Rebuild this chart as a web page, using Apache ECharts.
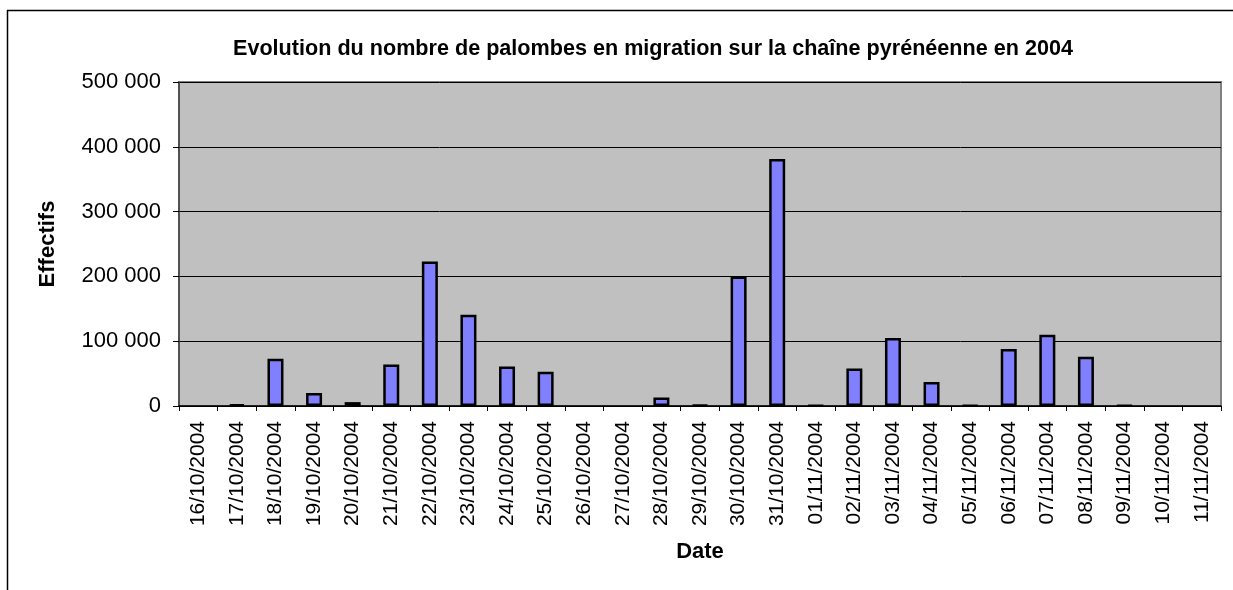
<!DOCTYPE html>
<html>
<head>
<meta charset="utf-8">
<script src="https://cdn.jsdelivr.net/npm/echarts@6/dist/echarts.min.js"></script>
<style>
html,body{margin:0;padding:0;background:#fff;}
#chart{width:1233px;height:590px;}
</style>
</head>
<body>
<div id="chart"></div>
<script>
var titleText = "Evolution du nombre de palombes en migration sur la chaîne pyrénéenne en 2004";
var xAxisName = "Date";
var yAxisName = "Effectifs";
var dates = ["16/10/2004","17/10/2004","18/10/2004","19/10/2004","20/10/2004","21/10/2004","22/10/2004","23/10/2004","24/10/2004","25/10/2004","26/10/2004","27/10/2004","28/10/2004","29/10/2004","30/10/2004","31/10/2004","01/11/2004","02/11/2004","03/11/2004","04/11/2004","05/11/2004","06/11/2004","07/11/2004","08/11/2004","09/11/2004","10/11/2004","11/11/2004"];
var effectifs = [0,2500,73000,20000,6000,64000,223000,141000,61000,53000,0,0,13000,1500,200000,381000,1000,58000,105000,37000,1000,88000,110000,76000,1000,0,0];
var yMin = 0, yMax = 500000, yStep = 100000;

function fmt(v){ return String(v).replace(/\B(?=(\d{3})+(?!\d))/g, ' '); }

var barData = effectifs.map(function(v){
  return v === 0 ? {value:v, itemStyle:{borderWidth:0}} : v;
});

var chart = echarts.init(document.getElementById('chart'), null, {renderer:'canvas'});
chart.setOption({
  backgroundColor:'#ffffff',
  animation:false,
  textStyle:{fontFamily:'Arial, "Liberation Sans", sans-serif'},
  title:{
    text:titleText, left:648, top:33, textAlign:'center',
    textStyle:{fontSize:21.6, fontWeight:'bold', color:'#000', fontFamily:'Arial, "Liberation Sans", sans-serif'}
  },
  graphic:[
    {type:'line', shape:{x1:7,y1:10.5,x2:1233,y2:10.5}, style:{stroke:'#000',lineWidth:1.5}, z:100},
    {type:'line', shape:{x1:7.5,y1:10,x2:7.5,y2:590}, style:{stroke:'#000',lineWidth:1.5}, z:100}
  ],
  grid:{left:179, right:12, top:82, bottom:184, show:true, backgroundColor:'#C0C0C0', borderColor:'#808080', borderWidth:2},
  xAxis:{
    type:'category', data:dates,
    name:xAxisName, nameLocation:'middle', nameGap:135,
    nameTextStyle:{fontSize:22, fontWeight:'bold', color:'#000'},
    axisLine:{show:true, lineStyle:{color:'#000', width:1.5}},
    axisTick:{show:true, length:5, alignWithLabel:false, lineStyle:{color:'#000'}},
    axisLabel:{rotate:90, fontSize:21, color:'#000', margin:15, interval:0},
    splitLine:{show:false}
  },
  yAxis:{
    type:'value', min:yMin, max:yMax, interval:yStep,
    name:yAxisName, nameLocation:'middle', nameGap:120,
    nameTextStyle:{fontSize:22, fontWeight:'bold', color:'#000'},
    axisLine:{show:true, lineStyle:{color:'#404040', width:1.5}},
    axisTick:{show:true, length:6, lineStyle:{color:'#000'}},
    axisLabel:{fontSize:22, color:'#000', margin:18, formatter:fmt},
    splitLine:{show:true, lineStyle:{color:'#000', width:1}}
  },
  series:[{
    type:'bar', data:barData, barWidth:16,
    itemStyle:{color:'#8080FF', borderColor:'#000', borderWidth:2.5}
  }]
});
</script>
</body>
</html>
